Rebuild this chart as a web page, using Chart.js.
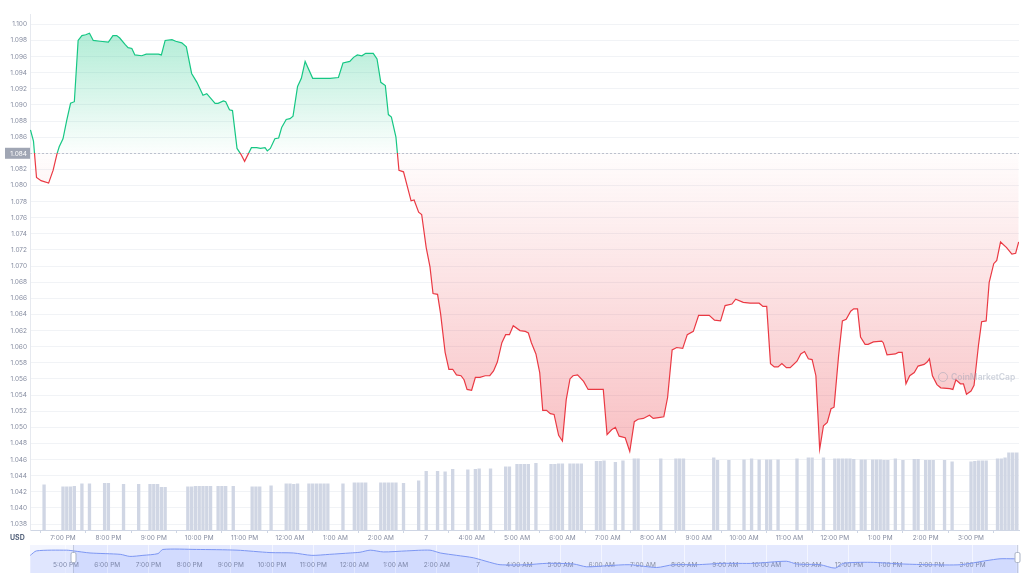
<!DOCTYPE html>
<html>
<head>
	<title>Price chart</title>
	<script src="https://cdn.jsdelivr.net/npm/chart.js@4.4.0/dist/chart.umd.min.js"></script>
<style>
body { margin: 0; background: #fff; font-family: Inter, sans-serif; }
#wrap { position: relative; width: 1024px; height: 576px; overflow: hidden; }
#main { position: absolute; left: 0; top: 0; }
#nav { position: absolute; left: 0; top: 545px; }
#usd { position: absolute; left: 10px; top: 533px; font: 700 7px Inter; color: #58667e; }
#mark { position: absolute; left: 938px; top: 372px; font: 600 8.5px Inter; color: rgba(150,160,180,0.45); white-space: nowrap; }
#mark span { display: inline-block; width: 10px; height: 10px; border: 1.5px solid rgba(150,160,180,0.45); border-radius: 50%; box-sizing: border-box; vertical-align: -2px; margin-right: 3px; }
</style>
</head>
<body>
<div id="wrap">
	<canvas id="main" width="1024" height="545"></canvas>
	<canvas id="nav" width="1024" height="28"></canvas>
	<div id="usd">USD</div>
	<div id="mark"><span></span>CoinMarketCap</div>
</div>

<script>
// times are minutes after 6:00 PM on the 6th
var priceTimes = [17,21,25,31,41,47,52,55,60,65,70,75,80,85,90,95,100,109,120,126,
	131,135,142,146,151,155,164,170,179,186,190,195,204,209,217,223,230,237,245,250,
	261,265,272,275,280,284,290,295,300,309,316,321,327,330,334,340,345,349,355,360,
	364,370,375,380,390,400,413,424,430,439,444,449,455,460,470,475,480,486,490,494,
	500,504,510,520,524,530,534,540,545,549,555,559,565,570,575,580,586,590,594,600,
	605,611,618,624,629,634,640,645,650,655,664,671,675,679,685,690,694,699,704,709,
	715,720,725,730,734,740,748,754,765,774,779,785,790,795,803,809,815,820,827,835,
	840,847,854,859,865,871,879,885,893,900,914,921,929,935,944,949,959,968,980,985,
	990,995,1000,1005,1010,1016,1021,1030,1035,1040,1045,1050,1055,1060,1065,1070,1075,1079,1085,1090,
	1095,1101,1105,1110,1114,1120,1124,1131,1142,1144,1149,1160,1164,1169,1174,1179,1185,1190,1198,1202,
	1205,1209,1215,1220,1232,1236,1240,1246,1250,1254,1260,1264,1270,1274,1280,1284,1290,1294,1299,1307,
	1314,1319,1323];
var prices = [1.0869,1.0855,1.0810,1.0806,1.0803,1.0819,1.0839,1.0848,1.0858,1.0881,
	1.0902,1.0904,1.0980,1.0986,1.0987,1.0989,1.0980,1.0979,1.0978,1.0986,
	1.0986,1.0983,1.0975,1.0971,1.0970,1.0962,1.0961,1.0963,1.0963,1.0963,
	1.0962,1.0980,1.0981,1.0979,1.0977,1.0972,1.0939,1.0928,1.0912,1.0914,
	1.0902,1.0902,1.0905,1.0904,1.0894,1.0893,1.0846,1.0839,1.0830,1.0847,
	1.0847,1.0846,1.0847,1.0843,1.0846,1.0858,1.0859,1.0872,1.0882,1.0883,
	1.0886,1.0923,1.0933,1.0954,1.0933,1.0933,1.0933,1.0934,1.0952,1.0954,
	1.0959,1.0962,1.0961,1.0964,1.0964,1.0957,1.0928,1.0924,1.0888,1.0885,
	1.0860,1.0819,1.0817,1.0781,1.0782,1.0767,1.0764,1.0723,1.0699,1.0666,
	1.0665,1.0641,1.0593,1.0572,1.0572,1.0565,1.0564,1.0559,1.0547,1.0546,
	1.0562,1.0562,1.0564,1.0564,1.0570,1.0581,1.0605,1.0615,1.0615,1.0626,
	1.0620,1.0619,1.0617,1.0605,1.0591,1.0568,1.0521,1.0521,1.0517,1.0516,
	1.0490,1.0483,1.0534,1.0560,1.0564,1.0565,1.0557,1.0547,1.0547,1.0547,
	1.0491,1.0497,1.0500,1.0489,1.0487,1.0470,1.0507,1.0510,1.0511,1.0515,
	1.0511,1.0512,1.0513,1.0537,1.0596,1.0599,1.0598,1.0615,1.0619,1.0639,
	1.0639,1.0633,1.0632,1.0651,1.0653,1.0659,1.0655,1.0654,1.0654,1.0650,
	1.0650,1.0579,1.0575,1.0575,1.0579,1.0574,1.0574,1.0582,1.0591,1.0594,
	1.0585,1.0584,1.0564,1.0473,1.0502,1.0506,1.0523,1.0525,1.0589,1.0632,
	1.0634,1.0644,1.0647,1.0647,1.0612,1.0603,1.0603,1.0606,1.0607,1.0605,
	1.0590,1.0591,1.0593,1.0593,1.0554,1.0564,1.0568,1.0576,1.0578,1.0581,
	1.0585,1.0564,1.0553,1.0549,1.0548,1.0547,1.0559,1.0554,1.0554,1.0541,
	1.0545,1.0552,1.0603,1.0631,1.0632,1.0680,1.0703,1.0707,1.0730,1.0723,
	1.0715,1.0716,1.0730];

var volTimes = [35,60,65,70,75,85,95,115,120,140,
	160,175,180,185,190,195,225,230,235,240,
	245,250,255,265,270,275,285,310,315,320,
	335,355,360,365,370,385,390,395,400,405,
	410,430,445,450,455,460,480,485,490,495,
	500,510,530,540,555,565,575,595,605,610,
	625,645,650,660,665,670,675,685,705,710,
	715,720,730,735,740,745,765,770,775,790,
	800,815,820,850,870,875,880,920,925,940,
	960,970,980,990,995,1005,1030,1045,1050,1065,
	1080,1085,1090,1095,1100,1105,1115,1120,1130,1135,
	1140,1145,1150,1160,1170,1185,1190,1200,1205,1210,
	1225,1235,1260,1265,1270,1275,1280,1295,1300,1305,
	1310,1315,1320,1325];
var volumes = [0.91,0.87,0.87,0.87,0.88,0.93,0.93,0.94,0.94,0.92,
	0.92,0.92,0.92,0.92,0.86,0.86,0.87,0.87,0.88,0.88,
	0.88,0.88,0.88,0.88,0.88,0.88,0.88,0.87,0.87,0.87,
	0.89,0.93,0.93,0.92,0.93,0.93,0.93,0.93,0.93,0.93,
	0.93,0.93,0.95,0.95,0.95,0.95,0.95,0.95,0.95,0.95,
	0.95,0.94,0.99,1.18,1.18,1.17,1.22,1.21,1.22,1.23,
	1.23,1.27,1.27,1.32,1.32,1.32,1.32,1.34,1.32,1.32,
	1.33,1.33,1.33,1.33,1.33,1.33,1.38,1.38,1.39,1.36,
	1.39,1.43,1.43,1.43,1.43,1.43,1.43,1.45,1.40,1.40,
	1.41,1.43,1.41,1.41,1.41,1.41,1.43,1.45,1.45,1.45,
	1.43,1.43,1.43,1.43,1.43,1.42,1.41,1.41,1.41,1.41,
	1.41,1.40,1.40,1.43,1.40,1.42,1.42,1.40,1.40,1.40,
	1.40,1.37,1.37,1.38,1.39,1.39,1.39,1.43,1.43,1.45,
	1.55,1.55,1.55,1.55];

var openPrice = 1.084;
var priceTicks = [1.038,1.040,1.042,1.044,1.046,1.048,1.050,1.052,1.054,1.056,1.058,
	1.060,1.062,1.064,1.066,1.068,1.070,1.072,1.074,1.076,1.078,1.080,
	1.082,1.084,1.086,1.088,1.090,1.092,1.094,1.096,1.098,1.100];
var hourTicks = [60,120,180,240,300,360,420,480,540,600,660,720,780,840,900,960,1020,1080,1140,1200,1260];
var hourLabels = ['7:00 PM','8:00 PM','9:00 PM','10:00 PM','11:00 PM','12:00 AM','1:00 AM','2:00 AM','7',
	'4:00 AM','5:00 AM','6:00 AM','7:00 AM','8:00 AM','9:00 AM','10:00 AM','11:00 AM','12:00 PM','1:00 PM','2:00 PM','3:00 PM'];

// overview strip under the chart
var navTimes = [-112,-103,-59,-49,-25,19,33,52,74,81,130,189,237,271,298,324,354,368,383,402,
	436,470,485,509,533,557,572,611,640,679,698,727,761,800,824,858,897,941,989,1004,
	1038,1060,1072,1111,1159,1198,1242,1281,1300,1319,1328];
var navPrices = [1.0825,1.0950,1.0970,1.0950,1.0892,1.0854,1.0796,1.0825,1.0874,1.0990,
	1.0990,1.0970,1.0903,1.0892,1.0825,1.0854,1.0892,1.0912,1.0970,1.0921,
	1.0950,1.0970,1.0892,1.0825,1.0759,1.0632,1.0565,1.0565,1.0603,1.0585,
	1.0507,1.0536,1.0565,1.0487,1.0565,1.0565,1.0603,1.0603,1.0661,1.0585,
	1.0565,1.0470,1.0603,1.0632,1.0585,1.0565,1.0565,1.0681,1.0730,1.0730,1.0730];
var navHourTicks = [-60,0,60,120,180,240,300,360,420,480,540,600,660,720,780,840,900,960,1020,1080,1140,1200,1260];
var navHourLabels = ['5:00 PM','6:00 PM','7:00 PM','8:00 PM','9:00 PM','10:00 PM','11:00 PM','12:00 AM','1:00 AM','2:00 AM','7',
	'4:00 AM','5:00 AM','6:00 AM','7:00 AM','8:00 AM','9:00 AM','10:00 AM','11:00 AM','12:00 PM','1:00 PM','2:00 PM','3:00 PM'];
var navSelection = [-50, 1324];

var green = '#16c784';
var red = '#ea3943';
var tickColor = '#858ca0';

Chart.defaults.font.family = 'Inter';
Chart.defaults.color = tickColor;
Chart.defaults.animation = false;

function splitAt(c) {
	var chart = c.chart;
	var area = chart.chartArea;
	var yb = chart.scales.y.getPixelForValue(openPrice);
	return Math.min(1, Math.max(0, (yb - area.top) / (area.bottom - area.top)));
}

function lineStroke(c) {
	var area = c.chart.chartArea;
	if (!area) return green;
	var stop = splitAt(c);
	var g = c.chart.ctx.createLinearGradient(0, area.top, 0, area.bottom);
	g.addColorStop(0, green);
	g.addColorStop(stop, green);
	g.addColorStop(stop, red);
	g.addColorStop(1, red);
	return g;
}

function areaFill(c) {
	var area = c.chart.chartArea;
	if (!area) return 'rgba(0,0,0,0)';
	var stop = splitAt(c);
	var g = c.chart.ctx.createLinearGradient(0, area.top, 0, area.bottom);
	g.addColorStop(0, 'rgba(22,199,132,0.38)');
	g.addColorStop(stop, 'rgba(22,199,132,0.01)');
	g.addColorStop(stop, 'rgba(234,57,67,0.01)');
	g.addColorStop(1, 'rgba(234,57,67,0.40)');
	return g;
}

var openLine = {
	id: 'openLine',
	beforeDatasetsDraw: function(chart) {
		var ctx = chart.ctx;
		var a = chart.chartArea;
		var y = Math.round(chart.scales.y.getPixelForValue(openPrice)) + 0.5;
		ctx.save();
		ctx.strokeStyle = '#bcc2ce';
		ctx.lineWidth = 1;
		ctx.setLineDash([2, 2]);
		ctx.beginPath();
		ctx.moveTo(a.left, y);
		ctx.lineTo(a.right, y);
		ctx.stroke();
		ctx.restore();
	},
	afterDraw: function(chart) {
		var ctx = chart.ctx;
		var a = chart.chartArea;
		var y = chart.scales.y.getPixelForValue(openPrice);
		ctx.save();
		ctx.fillStyle = '#a0a6b4';
		ctx.fillRect(a.left - 25, y - 5.5, 25, 11);
		ctx.fillStyle = '#ffffff';
		ctx.font = '6.5px Inter';
		ctx.textAlign = 'right';
		ctx.textBaseline = 'middle';
		ctx.fillText(openPrice.toFixed(3), a.left - 3, y + 0.5);
		ctx.restore();
	}
};

var lineData = priceTimes.map(function(t, i) { return {x: t, y: prices[i]}; });
var barData = volTimes.map(function(t, i) { return {x: t, y: volumes[i]}; });

var mainChart = new Chart(document.getElementById('main'), {
	type: 'line',
	data: {
		datasets: [{
			type: 'line',
			data: lineData,
			yAxisID: 'y',
			borderColor: lineStroke,
			backgroundColor: areaFill,
			borderWidth: 1.2,
			pointRadius: 0,
			tension: 0,
			fill: {target: {value: openPrice}},
			order: 0
		}, {
			type: 'bar',
			data: barData,
			yAxisID: 'yv',
			backgroundColor: '#d0d6e4',
			barPercentage: 0.88,
			categoryPercentage: 1,
			order: 1
		}]
	},
	options: {
		responsive: false,
		layout: {padding: {top: 14, right: 5, left: 0, bottom: 0}},
		plugins: {legend: {display: false}, tooltip: {enabled: false}},
		scales: {
			x: {
				type: 'linear',
				min: 16.4,
				max: 1323.4,
				offset: false,
				afterBuildTicks: function(scale) {
					scale.ticks = hourTicks.map(function(v) { return {value: v}; });
				},
				afterFit: function(scale) { scale.height = 15; },
				ticks: {
					autoSkip: false,
					maxRotation: 0,
					padding: 1,
					font: {size: 6.5},
					color: tickColor,
					callback: function(v, i) { return hourLabels[i]; }
				},
				grid: {drawOnChartArea: false, drawTicks: true, tickLength: 3, color: '#cfd6e4'},
				border: {display: true, color: '#cfd6e4', dash: [2, 2]}
			},
			y: {
				position: 'left',
				min: 1.03726,
				max: 1.10128,
				afterBuildTicks: function(scale) {
					scale.ticks = priceTicks.map(function(v) { return {value: v}; });
				},
				afterFit: function(scale) { scale.width = 30; },
				ticks: {
					padding: 3,
					font: {size: 6.5},
					color: tickColor,
					callback: function(v) { return v.toFixed(3); }
				},
				grid: {color: '#f1f3f6', drawTicks: false},
				border: {display: true, color: '#e6e9ef'}
			},
			yv: {
				display: false,
				min: 0,
				max: 10.32
			}
		}
	},
	plugins: [openLine]
});

var navShade = {
	id: 'navShade',
	beforeDraw: function(chart) {
		var ctx = chart.ctx;
		var a = chart.chartArea;
		var xs = chart.scales.x;
		var x0 = xs.getPixelForValue(navSelection[0]);
		var x1 = xs.getPixelForValue(navSelection[1]);
		ctx.save();
		ctx.fillStyle = '#f3f5fe';
		ctx.fillRect(a.left, a.top, a.right - a.left, a.bottom - a.top);
		ctx.fillStyle = 'rgba(56,97,251,0.08)';
		ctx.fillRect(x0, a.top, x1 - x0, a.bottom - a.top);
		ctx.restore();
	},
	afterDraw: function(chart) {
		var ctx = chart.ctx;
		var a = chart.chartArea;
		var xs = chart.scales.x;
		ctx.save();
		navSelection.forEach(function(t) {
			var x = Math.round(xs.getPixelForValue(t)) + 0.5;
			ctx.strokeStyle = 'rgba(160,170,190,0.5)';
			ctx.beginPath();
			ctx.moveTo(x, a.top);
			ctx.lineTo(x, a.bottom);
			ctx.stroke();
			ctx.fillStyle = '#ffffff';
			ctx.strokeStyle = '#aab3c5';
			ctx.beginPath();
			ctx.roundRect(x - 2.5, a.top + 7.5, 5, 10, 1.5);
			ctx.fill();
			ctx.stroke();
		});
		ctx.restore();
	}
};

var navChart = new Chart(document.getElementById('nav'), {
	type: 'line',
	data: {
		datasets: [{
			data: navTimes.map(function(t, i) { return {x: t, y: navPrices[i]}; }),
			borderColor: '#7d97f3',
			backgroundColor: 'rgba(56,97,251,0.10)',
			borderWidth: 1,
			pointRadius: 0,
			tension: 0.25,
			fill: 'start'
		}]
	},
	options: {
		responsive: false,
		layout: {padding: {top: 0, right: 5, left: 30, bottom: 0}},
		plugins: {legend: {display: false}, tooltip: {enabled: false}},
		scales: {
			x: {
				type: 'linear',
				min: -112.4,
				max: 1327.6,
				z: 1,
				afterBuildTicks: function(scale) {
					scale.ticks = navHourTicks.map(function(v) { return {value: v}; });
				},
				afterFit: function(scale) { scale.height = 0; },
				ticks: {
					mirror: true,
					padding: 4,
					autoSkip: false,
					maxRotation: 0,
					font: {size: 6.5},
					color: tickColor,
					callback: function(v, i) { return navHourLabels[i]; }
				},
				grid: {color: 'rgba(255,255,255,0.6)', drawTicks: false},
				border: {display: false}
			},
			y: {
				display: false,
				min: 1.0334,
				max: 1.1114
			}
		}
	},
	plugins: [navShade]
});
</script>
</body>
</html>
